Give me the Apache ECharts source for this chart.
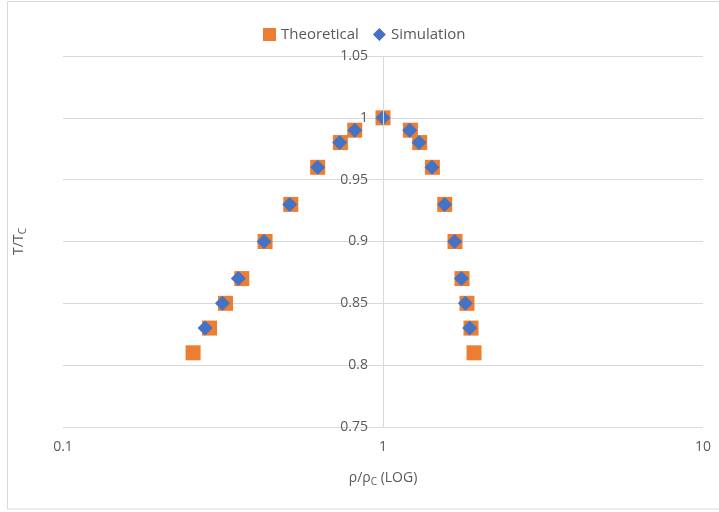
<!DOCTYPE html>
<html>
<head>
<meta charset="utf-8">
<script src="https://cdn.jsdelivr.net/npm/echarts@6/dist/echarts.min.js"></script>
<style>
    html, body { margin: 0; padding: 0; background: #fff; }
    #main { width: 719px; height: 512px; }
</style>
</head>
<body>
<div id="main"></div>
<script>
// T/Tc levels, left branch then right branch
const tempLevels = [0.81, 0.83, 0.85, 0.87, 0.90, 0.93, 0.96, 0.98, 0.99, 1.00,
    0.99, 0.98, 0.96, 0.93, 0.90, 0.87, 0.85, 0.83, 0.81]
const theoreticalRho = [0.255, 0.287, 0.322, 0.362, 0.428, 0.515, 0.625, 0.736, 0.816, 1.0,
    1.218, 1.302, 1.427, 1.559, 1.679, 1.766, 1.830, 1.884, 1.925]
// simulation has no point at 0.81
const simTemp = [0.83, 0.85, 0.87, 0.90, 0.93, 0.96, 0.98, 0.99, 1.00,
    0.99, 0.98, 0.96, 0.93, 0.90, 0.87, 0.85, 0.83]
const simulationRho = [0.278, 0.315, 0.353, 0.425, 0.511, 0.625, 0.732, 0.816, 1.0,
    1.212, 1.296, 1.423, 1.559, 1.675, 1.758, 1.809, 1.866]
const yTicks = [0.75, 0.8, 0.85, 0.9, 0.95, 1, 1.05]

const zip = (xs, ys) => xs.map((x, i) => [x, ys[i]])

var chartDom = document.getElementById('main')
var myChart = echarts.init(chartDom)
var font = 'Open Sans, Noto Sans, sans-serif'
var option = {
    animation: false,
    backgroundColor: '#fff',
    textStyle: { fontFamily: font },
    graphic: [{
        type: 'rect',
        shape: { x: 7.5, y: 1.5, width: 712, height: 507.5 },
        style: { fill: 'none', stroke: '#d9d9d9', lineWidth: 1 },
        silent: true,
    }],
    legend: {
        top: 22,
        left: 258,
        itemWidth: 13,
        itemHeight: 13,
        itemGap: 14,
        textStyle: { fontSize: 15, color: '#595959', fontFamily: font },
        data: ['Theoretical', 'Simulation'],
    },
    grid: { left: 63, right: 16, top: 56, bottom: 85 },
    xAxis: {
        type: 'log',
        logBase: 10,
        min: 0.1,
        max: 10,
        axisLine: { show: false },
        axisTick: { show: false },
        splitLine: { show: false },
        axisLabel: { fontSize: 14, color: '#595959', margin: 13 },
        name: '{a|ρ/ρ}{s|C}{a| (LOG)}',
        nameLocation: 'middle',
        nameGap: 42,
        nameTextStyle: {
            rich: {
                a: { fontSize: 14, color: '#595959', fontFamily: font },
                s: { fontSize: 10, color: '#595959', fontFamily: font, padding: [8, 0, 0, 0] },
            },
        },
    },
    yAxis: {
        type: 'value',
        min: yTicks[0],
        max: yTicks[yTicks.length - 1],
        interval: 0.05,
        axisLine: { show: false },
        axisTick: { show: false },
        splitLine: { show: true, lineStyle: { color: '#d9d9d9', width: 1 } },
        axisLabel: { fontSize: 14, color: '#595959', margin: -305 },
        name: '{a|T/T}{s|C}',
        nameLocation: 'middle',
        nameRotate: 90,
        nameGap: 35,
        nameTextStyle: {
            rich: {
                a: { fontSize: 14, color: '#595959', fontFamily: font },
                s: { fontSize: 10, color: '#595959', fontFamily: font, padding: [8, 0, 0, 0] },
            },
        },
    },
    series: [
        {
            name: 'Theoretical',
            type: 'scatter',
            symbol: 'rect',
            symbolSize: 15,
            itemStyle: { color: '#ED7D31', opacity: 1 },
            data: zip(theoreticalRho, tempLevels),
            markLine: {
                silent: true,
                symbol: 'none',
                label: { show: false },
                lineStyle: { color: '#d9d9d9', type: 'solid', width: 1 },
                data: [{ xAxis: 1 }],
            },
        },
        {
            name: 'Simulation',
            type: 'scatter',
            symbol: 'diamond',
            symbolSize: 15,
            itemStyle: { color: '#4472C4', opacity: 1 },
            data: zip(simulationRho, simTemp),
        },
    ],
}
option && myChart.setOption(option)
</script>
</body>
</html>
